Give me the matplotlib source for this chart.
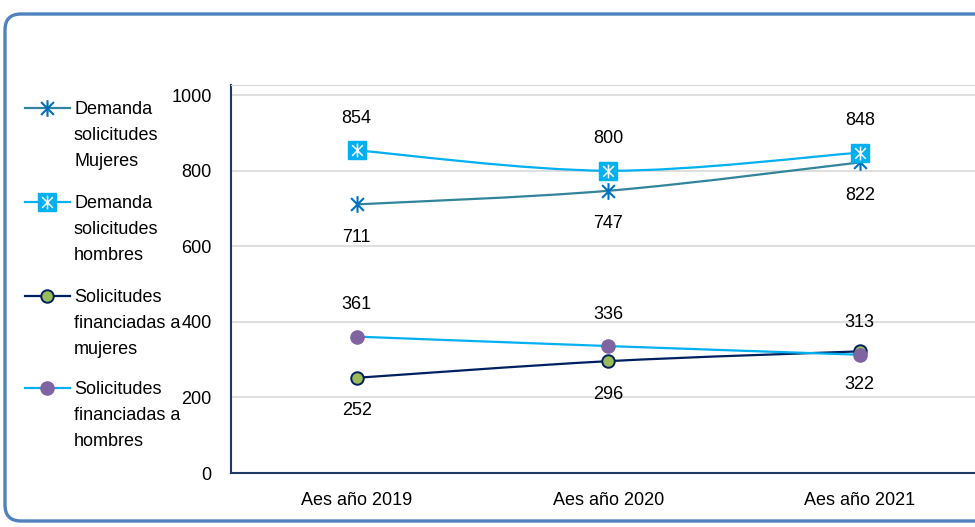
import matplotlib
matplotlib.use("Agg")
import matplotlib.pyplot as plt
from matplotlib.path import Path
from matplotlib.patches import PathPatch, FancyBboxPatch
from matplotlib.lines import Line2D
from matplotlib.transforms import IdentityTransform

plt.rcParams['font.family'] = ['Liberation Sans', 'DejaVu Sans']

# datos
categorias = ['Aes año 2019', 'Aes año 2020', 'Aes año 2021']
demanda_mujeres = [711, 747, 822]
demanda_hombres = [854, 800, 848]
financiadas_mujeres = [252, 296, 322]
financiadas_hombres = [361, 336, 313]
nombres = ['Demanda\nsolicitudes\nMujeres',
           'Demanda\nsolicitudes\nhombres',
           'Solicitudes\nfinanciadas a\nmujeres',
           'Solicitudes\nfinanciadas a\nhombres']

FS = 13

# marcador asterisco (x + linea vertical)
ast = Path([(-1, -1), (1, 1), (-1, 1), (1, -1), (0, -1.3), (0, 1.3)],
           [Path.MOVETO, Path.LINETO, Path.MOVETO, Path.LINETO, Path.MOVETO, Path.LINETO])


def curva(ax, xs, ys, color, lw=1.6):
    # linea suavizada tipo Excel (bezier por tramos)
    pts = list(zip(xs, ys))
    verts = [pts[0]]
    codes = [Path.MOVETO]
    n = len(pts)
    for i in range(n - 1):
        p0 = pts[i - 1] if i > 0 else pts[i]
        p1 = pts[i]
        p2 = pts[i + 1]
        p3 = pts[i + 2] if i + 2 < n else pts[i + 1]
        c1 = (p1[0] + (p2[0] - p0[0]) / 6, p1[1] + (p2[1] - p0[1]) / 6)
        c2 = (p2[0] - (p3[0] - p1[0]) / 6, p2[1] - (p3[1] - p1[1]) / 6)
        verts += [c1, c2, p2]
        codes += [Path.CURVE4] * 3
    ax.add_patch(PathPatch(Path(verts, codes), fill=False, edgecolor=color, lw=lw, zorder=3))


fig = plt.figure(figsize=(9.75, 5.27), dpi=100)
ax = fig.add_axes([231 / 975, 54 / 527, 754.5 / 975, 388 / 527])

x = list(range(len(categorias)))

# Demanda mujeres
curva(ax, x, demanda_mujeres, '#31849B')
ax.plot(x, demanda_mujeres, ls='none', marker=ast, ms=12, mec='#0070C0', mfc='none', mew=1.5, zorder=4)
# Demanda hombres
curva(ax, x, demanda_hombres, '#00B0F0')
ax.plot(x, demanda_hombres, ls='none', marker='s', ms=13, mec='#00B0F0', mfc='#00B0F0', zorder=5)
ax.plot(x, demanda_hombres, ls='none', marker=ast, ms=10, mec='white', mfc='none', mew=1.1, zorder=6)
# Financiadas mujeres
curva(ax, x, financiadas_mujeres, '#002060')
ax.plot(x, financiadas_mujeres, ls='none', marker='o', ms=9, mec='#002060', mfc='#9BBB59', mew=1.4, zorder=7)
# Financiadas hombres
curva(ax, x, financiadas_hombres, '#00B0F0')
ax.plot(x, financiadas_hombres, ls='none', marker='o', ms=9.5, mec='#8064A2', mfc='#8064A2', zorder=8)

# etiquetas de datos
for serie, arriba in [(demanda_mujeres, False), (demanda_hombres, True),
                      (financiadas_mujeres, False), (financiadas_hombres, True)]:
    for xi, v in zip(x, serie):
        ax.annotate(str(v), (xi, v), xytext=(0, 32 if arriba else -33),
                    textcoords='offset pixels', ha='center', va='center', fontsize=FS)

ax.set_xlim(-0.5, 2.5)
ax.set_ylim(0, 1027)
ax.set_yticks([0, 200, 400, 600, 800, 1000])
ax.set_xticks(x)
ax.set_xticklabels(categorias)
ax.tick_params(axis='both', length=0, labelsize=FS)
ax.tick_params(axis='y', pad=14)
ax.tick_params(axis='x', pad=14)
ax.grid(axis='y', color='#D9D9D9', lw=1.2)
ax.set_axisbelow(True)
ax.spines['right'].set_visible(False)
ax.spines['top'].set_color('#D9D9D9')
ax.spines['left'].set_color('#1F3864')
ax.spines['bottom'].set_color('#1F3864')
ax.spines['left'].set_linewidth(1.5)
ax.spines['bottom'].set_linewidth(1.5)

# leyenda manual
estilos = [
    dict(color='#31849B', marker=ast, ms=12, mec='#0070C0', mfc='none', mew=1.5),
    dict(color='#00B0F0', marker='s', ms=13, mec='#00B0F0', mfc='#00B0F0'),
    dict(color='#002060', marker='o', ms=9, mec='#002060', mfc='#9BBB59', mew=1.4),
    dict(color='#00B0F0', marker='o', ms=9.5, mec='#8064A2', mfc='#8064A2'),
]
ys_ley = [108, 202, 296, 388]
for nombre, est, yy in zip(nombres, estilos, ys_ley):
    yf = 1 - yy / 527
    fig.add_artist(Line2D([25 / 975, 70 / 975], [yf, yf], lw=1.6, color=est['color'],
                          transform=fig.transFigure))
    kw = {k: v for k, v in est.items() if k != 'color'}
    fig.add_artist(Line2D([47 / 975], [yf], ls='none', transform=fig.transFigure, **kw))
    if est['marker'] == 's':
        fig.add_artist(Line2D([47 / 975], [yf], ls='none', marker=ast, ms=10, mec='white',
                              mfc='none', mew=1.1, transform=fig.transFigure))
    fig.text(74 / 975, yf + 7 / 527, nombre, fontsize=FS, va='top', ha='left', linespacing=1.68)

# borde redondeado
borde = FancyBboxPatch((5, 6), 1000, 507, boxstyle='round,pad=0,rounding_size=16',
                       transform=IdentityTransform(), fill=False, edgecolor='#4F81BD', lw=2.4)
fig.add_artist(borde)

fig.savefig('out.png', dpi=100)
